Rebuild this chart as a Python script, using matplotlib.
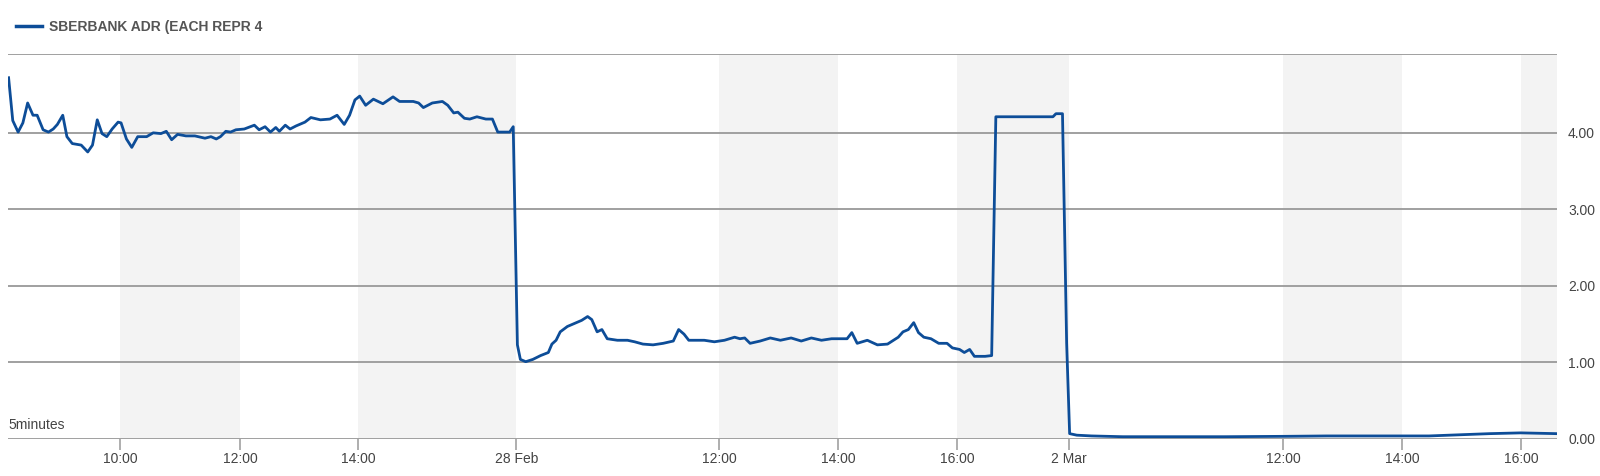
import matplotlib
matplotlib.use("Agg")
import matplotlib.pyplot as plt

plt.rcParams['font.family'] = ['Liberation Sans', 'DejaVu Sans']

series_name = "SBERBANK ADR (EACH REPR 4"
interval_label = "5minutes"

# x = elapsed trading hours on the chart's session-compressed time axis
hours = [
    0.01, 0.08, 0.17, 0.25, 0.33, 0.42, 0.49, 0.59, 0.68, 0.76, 0.83, 0.92,
    0.99, 1.08, 1.23, 1.34, 1.42, 1.50, 1.58, 1.66, 1.75, 1.85, 1.90, 1.99,
    2.08, 2.18, 2.33, 2.44, 2.57, 2.66, 2.75, 2.85, 2.99, 3.14, 3.31, 3.41,
    3.50, 3.57, 3.66, 3.74, 3.83, 3.97, 4.14, 4.22, 4.32, 4.41, 4.50, 4.56,
    4.66, 4.74, 4.84, 4.99, 5.09, 5.25, 5.41, 5.53, 5.65, 5.74, 5.83, 5.91,
    6.01, 6.14, 6.30, 6.47, 6.58, 6.81, 6.90, 6.98, 7.13, 7.30, 7.39, 7.49,
    7.56, 7.67, 7.76, 7.88, 8.03, 8.14, 8.23, 8.43, 8.49,
    # 28 Feb
    8.56, 8.61, 8.70, 8.82, 8.95, 9.08, 9.14, 9.21, 9.28, 9.40, 9.52, 9.64,
    9.74, 9.81, 9.90, 9.98, 10.07, 10.24, 10.41, 10.53, 10.67, 10.84, 11.01,
    11.18, 11.27, 11.36, 11.44, 11.70, 11.87, 12.04, 12.21, 12.30, 12.38,
    12.47, 12.64, 12.81, 12.98, 13.16, 13.33, 13.50, 13.67, 13.84, 14.10,
    14.18, 14.27, 14.44, 14.61, 14.78, 14.96, 15.04, 15.13, 15.22, 15.30,
    15.39, 15.51, 15.64, 15.78, 15.87, 15.99, 16.07, 16.16, 16.24, 16.42,
    16.53, 16.60, 17.56, 17.61, 17.72, 17.79,
    # 2 Mar
    17.84, 17.96, 18.21, 18.73, 20.45, 21.47, 22.16, 23.88, 24.90, 25.42, 26.02,
]
prices = [
    4.72, 4.16, 4.01, 4.13, 4.39, 4.23, 4.23, 4.04, 4.01, 4.05, 4.11, 4.23,
    3.95, 3.86, 3.84, 3.75, 3.84, 4.17, 3.99, 3.95, 4.05, 4.14, 4.13, 3.92,
    3.81, 3.95, 3.95, 4.00, 3.99, 4.02, 3.91, 3.98, 3.96, 3.96, 3.93, 3.95,
    3.92, 3.95, 4.02, 4.01, 4.04, 4.05, 4.10, 4.04, 4.08, 4.01, 4.07, 4.02,
    4.10, 4.05, 4.09, 4.14, 4.20, 4.17, 4.18, 4.23, 4.11, 4.23, 4.43, 4.48,
    4.36, 4.44, 4.38, 4.47, 4.41, 4.41, 4.39, 4.33, 4.39, 4.41, 4.36, 4.26,
    4.27, 4.19, 4.18, 4.21, 4.18, 4.18, 4.01, 4.01, 4.08,
    1.23, 1.04, 1.01, 1.04, 1.09, 1.13, 1.24, 1.29, 1.40, 1.47, 1.51, 1.55,
    1.60, 1.56, 1.40, 1.43, 1.31, 1.29, 1.29, 1.27, 1.24, 1.23, 1.25,
    1.28, 1.43, 1.37, 1.29, 1.29, 1.27, 1.29, 1.33, 1.31, 1.32,
    1.25, 1.28, 1.32, 1.29, 1.32, 1.28, 1.32, 1.29, 1.31, 1.31,
    1.39, 1.25, 1.29, 1.23, 1.24, 1.33, 1.40, 1.43, 1.52, 1.39,
    1.33, 1.31, 1.25, 1.25, 1.19, 1.17, 1.13, 1.17, 1.08, 1.08,
    1.09, 4.21, 4.21, 4.25, 4.25, 1.25,
    0.07, 0.05, 0.04, 0.03, 0.03, 0.035, 0.04, 0.04, 0.07, 0.08, 0.07,
]

tick_hours = [1.89, 3.90, 5.88, 8.54, 11.95, 13.95, 15.95, 17.83, 21.43, 23.43, 25.43]
tick_labels = ["10:00", "12:00", "14:00", "28 Feb", "12:00", "14:00", "16:00",
               "2 Mar", "12:00", "14:00", "16:00"]
y_ticks = [0, 1, 2, 3, 4]
x_end = 26.03
y_top = 5.03

fig = plt.figure(figsize=(16, 4.76), dpi=100)
ax = fig.add_axes([8 / 1600, 37 / 476, 1549 / 1600, 385 / 476])

# alternating shaded bands between ticks
for i in range(0, len(tick_hours), 2):
    right = tick_hours[i + 1] if i + 1 < len(tick_hours) else x_end
    ax.axvspan(tick_hours[i], right, color='#f3f3f3', lw=0, zorder=0)

for v in y_ticks + [y_top]:
    ax.axhline(v, color='#999999', lw=1.3, zorder=1)

ax.plot(hours, prices, color='#0d4d98', lw=2.0, zorder=3, label=series_name,
        solid_joinstyle='round')

ax.set_xlim(0, x_end)
ax.set_ylim(0, y_top)
for s in ax.spines.values():
    s.set_visible(False)

ax.set_xticks(tick_hours)
ax.set_xticklabels(tick_labels)
ax.tick_params(axis='x', direction='out', length=8, width=1.1, color='#999999',
               labelsize=10, labelcolor='#444444', pad=1.5)

ax.yaxis.tick_right()
ax.set_yticks(y_ticks)
ax.set_yticklabels([f"{v:.2f}" for v in y_ticks])
ax.tick_params(axis='y', length=0, pad=8, labelsize=10, labelcolor='#444444')

ax.text(0.0, 0.018, interval_label, transform=ax.transAxes, fontsize=10,
        color='#444444', va='bottom', ha='left')

leg = fig.legend(loc='upper left', bbox_to_anchor=(16 / 1600, 1 - 20 / 476),
                 frameon=False, handlelength=1.9, handletextpad=0.5,
                 borderpad=0, borderaxespad=0,
                 prop={'weight': 'bold', 'size': 10})
for t in leg.get_texts():
    t.set_color('#555555')
for h in leg.get_lines():
    h.set_linewidth(2.5)

fig.savefig("out.png", dpi=100)
